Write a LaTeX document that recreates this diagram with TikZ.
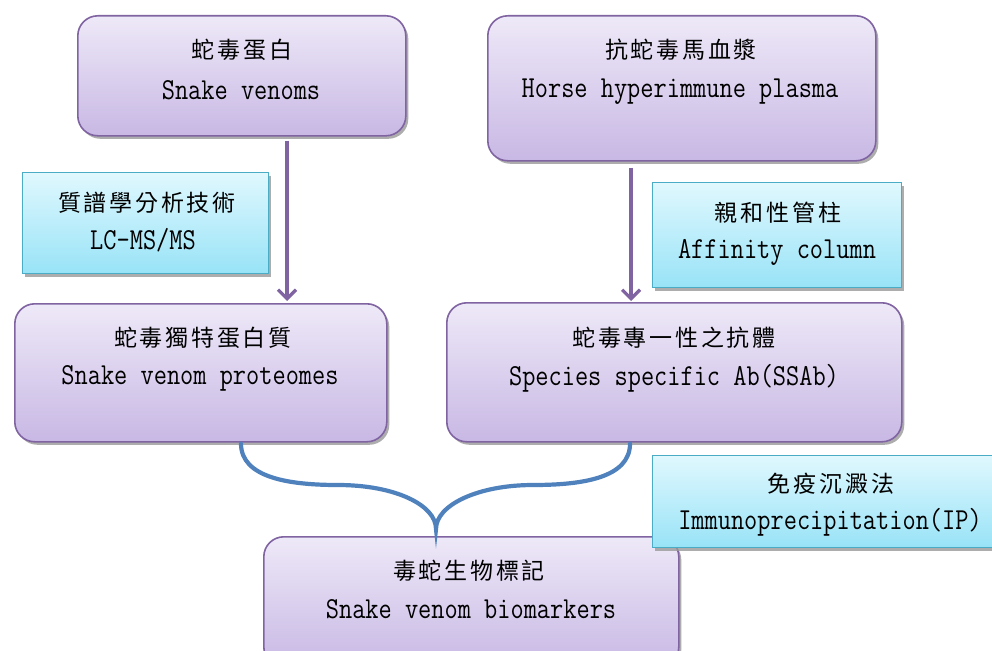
\documentclass[tikz,border=0pt]{standalone}
\usepackage{fontspec}
\newfontfamily\cjk[LetterSpace=12]{Noto Sans CJK TC}
\newfontfamily\enfont[FakeStretch=0.84]{Latin Modern Mono}
\usetikzlibrary{shadows,arrows.meta}
\definecolor{pborder}{HTML}{8064A2}
\definecolor{ptop}{RGB}{238,233,248}
\definecolor{pbot}{RGB}{200,184,228}
\definecolor{cborder}{HTML}{4BACC6}
\definecolor{ctop}{RGB}{224,248,254}
\definecolor{cbot}{RGB}{152,227,247}
\definecolor{braceblue}{HTML}{4F81BD}
\tikzset{
  pbox/.style={draw=pborder,line width=1.6pt,rounded corners=20pt,top color=ptop,bottom color=pbot,
    anchor=north west,inner sep=0pt,
    drop shadow={shadow xshift=2.5pt,shadow yshift=-3pt,fill=black!40,opacity=0.8}},
  cbox/.style={draw=cborder,line width=1.4pt,top color=ctop,bottom color=cbot,
    anchor=north west,inner sep=0pt,
    drop shadow={shadow xshift=2.5pt,shadow yshift=-3pt,fill=black!40,opacity=0.8}},
  zh/.style={inner sep=0pt,font=\cjk\fontsize{23}{27}\selectfont},
  en/.style={inner sep=0pt,font=\enfont\fontsize{30.5}{34}\selectfont},
  flow/.style={draw=pborder,line width=3.2pt,-{Straight Barb[length=9pt,width=18pt]}},
  brace/.style={draw=braceblue,line width=4.2pt,line cap=round}
}
\begin{document}
\begin{tikzpicture}[x=1pt,y=-1pt]
\useasboundingbox (0,0) rectangle (992,650);
% purple boxes
\node[pbox,minimum width=328pt,minimum height=120pt] (b1) at (77,15) {};
\node[pbox,minimum width=388pt,minimum height=145pt] (b2) at (487,15) {};
\node[pbox,minimum width=372pt,minimum height=138pt] (b5) at (14,303) {};
\node[pbox,minimum width=455pt,minimum height=139pt] (b6) at (446,302) {};
\node[pbox,minimum width=415pt,minimum height=130pt] (b8) at (263,536) {};
% cyan boxes
\node[cbox,minimum width=246pt,minimum height=101pt] (b3) at (22,172) {};
\node[cbox,minimum width=249pt,minimum height=105pt] (b4) at (652,182) {};
\node[cbox,minimum width=340pt,minimum height=92pt] (b7) at (652,455) {};
% texts
\node[zh] (t1a) at (242,50) {蛇毒蛋白};
\node[en] (t1b) at (241,90) {Snake venoms};
\node[zh] (t2a) at (681,50) {抗蛇毒馬血漿};
\node[en] (t2b) at (680,92) {Horse hyperimmune plasma};
\node[zh] (t3a) at (147,203) {質譜學分析技術};
\node[en] (t3b) at (143,240) {LC-MS/MS};
\node[zh] (t4a) at (778,213) {親和性管柱};
\node[en] (t4b) at (777,252) {Affinity column};
\node[zh] (t5a) at (203,338) {蛇毒獨特蛋白質};
\node[en] (t5b) at (200,378) {Snake venom proteomes};
\node[zh] (t6a) at (674,338) {蛇毒專一性之抗體};
\node[en] (t6b) at (674,378) {Species specific Ab(SSAb)};
\node[zh] (t7a) at (831,484) {免疫沉澱法};
\node[en] (t7b) at (830,522) {Immunoprecipitation(IP)};
\node[zh] (t8a) at (469,571) {毒蛇生物標記};
\node[en] (t8b) at (471,609) {Snake venom biomarkers};
% arrows
\coordinate (x1) at (287,0);
\coordinate (x2) at (631,0);
\draw[flow] ([yshift=-4pt]b1.south -| x1) -- ([yshift=2pt]b5.north -| x1);
\draw[flow] ([yshift=-6pt]b2.south -| x2) -- ([yshift=1pt]b6.north -| x2);
% brace
\coordinate (bl) at (241,0);
\coordinate (br) at (630,0);
\coordinate (tip) at (436,529);
\draw[brace] ([yshift=-1pt]b5.south -| bl) .. controls (241,478) and (290,485) .. (338,485)
  .. controls (395,485) and (436,505) .. (tip)
  .. controls (436,505) and (478,485) .. (533,485)
  .. controls (582,485) and (630,478) .. ([yshift=-1pt]b6.south -| br);
\end{tikzpicture}
\end{document}
